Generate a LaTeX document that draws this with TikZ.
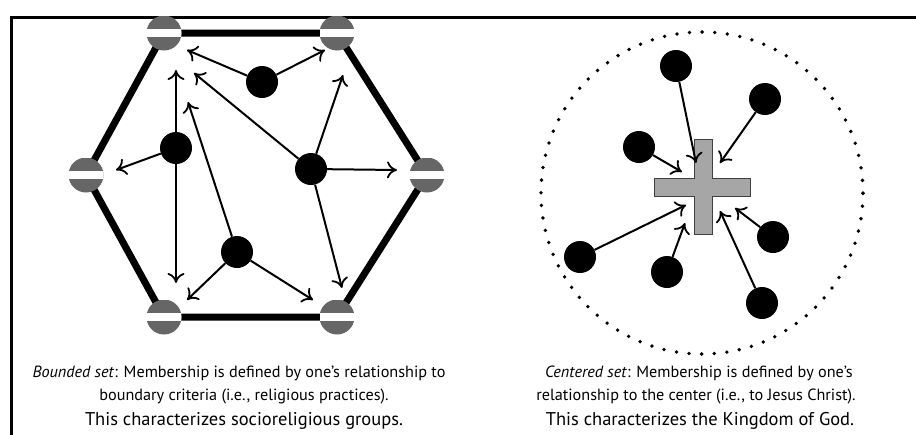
\documentclass[tikz,border=0pt]{standalone}
\usepackage{fontspec}
\setmainfont{PT Sans}
\usetikzlibrary{arrows.meta,backgrounds}
\definecolor{gatecol}{HTML}{666666}
\definecolor{crosscol}{HTML}{A6A6A6}
\newlength\capw
\begin{document}
\settowidth\capw{\fontsize{10}{12}\selectfont\textit{Bounded set}: Membership is defined by one’s relationship to}%
\pgfmathsetmacro\smallsz{4130/\capw}%
\settowidth\capw{\fontsize{10}{12}\selectfont This characterizes socioreligious groups.}%
\pgfmathsetmacro\bigsz{3180/\capw}%
\begin{tikzpicture}[x=1pt,y=-1pt,
  member/.style={circle,fill=black,minimum size=32pt,inner sep=0pt},
  gate/.style={circle,minimum size=35pt,inner sep=0pt,
    path picture={
      \fill[gatecol] (path picture bounding box.south west) rectangle (path picture bounding box.north east);
      \fill[white] ([yshift=-3.6pt]path picture bounding box.west) rectangle ([yshift=3.6pt]path picture bounding box.east);
    }},
  rel/.style={line width=2pt,-{Computer Modern Rightarrow[length=10pt,width=17pt,line width=1.8pt]}},
  hexedge/.style={line width=7pt},
  capsmall/.style={font=\fontsize{\smallsz}{15}\selectfont},
  capbig/.style={font=\fontsize{\bigsz}{17}\selectfont},
]
\useasboundingbox (0,0) rectangle (916,434);
% frame
\coordinate (fbl) at (11,436);
\coordinate (ftl) at (11,17);
\coordinate (ftr) at (918,17);
\draw[line width=3pt] (fbl) -- (ftl) -- (ftr);

% ---------- bounded set ----------
\node[gate] (g1) at (164,33) {};
\node[gate] (g2) at (337,33) {};
\node[gate] (g3) at (427,175) {};
\node[gate] (g4) at (337,317) {};
\node[gate] (g5) at (164,317) {};
\node[gate] (g6) at (86,175) {};
\begin{scope}[on background layer]
  \draw[hexedge] (g1.center) -- (g2.center) -- (g3.center) -- (g4.center) -- (g5.center) -- (g6.center) -- cycle;
\end{scope}

\node[member] (A) at (262,82) {};
\node[member] (B) at (176,148) {};
\node[member] (C) at (311,169) {};
\node[member] (D) at (237,252) {};

\coordinate (a1) at (187,50);
\coordinate (a2) at (325,50);
\coordinate (b1) at (176,70);
\coordinate (b2) at (116,170);
\coordinate (b3) at (176,283);
\coordinate (c1) at (194,73);
\coordinate (c2) at (343,75);
\coordinate (c3) at (397,170);
\coordinate (c4) at (342,288);
\coordinate (d1) at (188,102);
\coordinate (d2) at (187,300);
\coordinate (d3) at (313,300);

\draw[rel] (A) -- (a1);
\draw[rel] (A) -- (a2);
\draw[rel] (B) -- (b1);
\draw[rel] (B) -- (b2);
\draw[rel] (B) -- (b3);
\draw[rel] (C) -- (c1);
\draw[rel] (C) -- (c2);
\draw[rel] (C) -- (c3);
\draw[rel] (C) -- (c4);
\draw[rel] (D) -- (d1);
\draw[rel] (D) -- (d2);
\draw[rel] (D) -- (d3);

% ---------- centered set ----------
\node[circle,minimum size=322pt,inner sep=0pt,draw,line width=3.8pt,line cap=round,
      dash pattern=on 0pt off 12.64pt] (ring) at (702,193) {};
\filldraw[fill=crosscol,draw=black!75,line width=0.8pt]
  (694,139) -- (712,139) -- (712,178) -- (750,178) -- (750,196) -- (712,196)
  -- (712,234) -- (694,234) -- (694,196) -- (654,196) -- (654,178) -- (694,178) -- cycle;

\node[member] (E) at (676,66) {};
\node[member] (F) at (765,99) {};
\node[member] (G) at (639,147) {};
\node[member] (H) at (580,257) {};
\node[member] (I) at (667,272) {};
\node[member] (J) at (773,237) {};
\node[member] (K) at (762,303) {};

\coordinate (e1) at (696,163);
\coordinate (f1) at (720,163);
\coordinate (g1t) at (682,172);
\coordinate (h1) at (686,205);
\coordinate (i1) at (685,223);
\coordinate (j1) at (735,208);
\coordinate (k1) at (720,211);

\draw[rel] (E) -- (e1);
\draw[rel] (F) -- (f1);
\draw[rel] (G) -- (g1t);
\draw[rel] (H) -- (h1);
\draw[rel] (I) -- (i1);
\draw[rel] (J) -- (j1);
\draw[rel] (K) -- (k1);

% ---------- captions ----------
\node[capsmall] (l1) at (239,373) {\textit{Bounded set}: Membership is defined by one’s relationship to};
\node[capsmall] (l2) at (244,397) {boundary criteria (i.e., religious practices).};
\node[capbig]   (l3) at (244,421) {This characterizes socioreligious groups.};
\node[capsmall] (r1) at (699,373) {\textit{Centered set}: Membership is defined by one’s};
\node[capsmall] (r2) at (696,397) {relationship to the center (i.e., to Jesus Christ).};
\node[capbig]   (r3) at (700,421) {This characterizes the Kingdom of God.};
\end{tikzpicture}
\end{document}
